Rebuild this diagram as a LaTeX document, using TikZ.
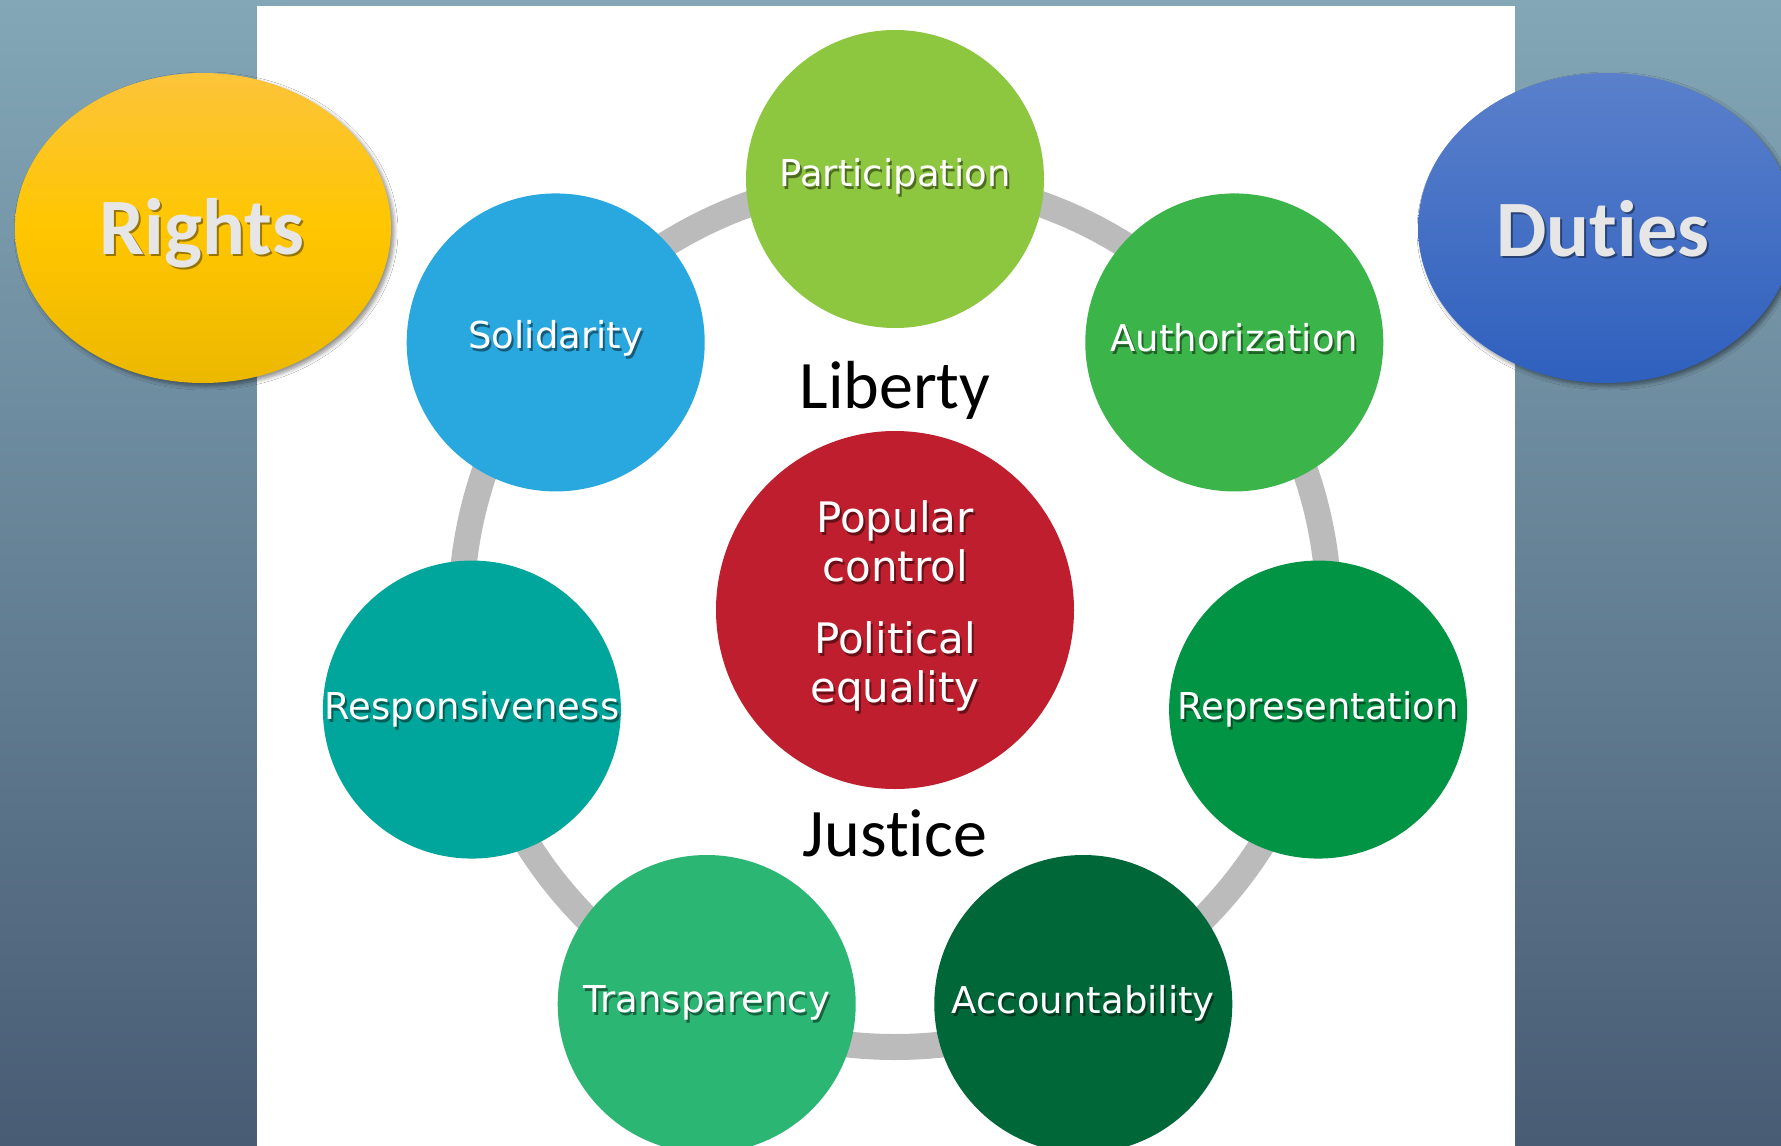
\documentclass[tikz,border=0pt]{standalone}
\usepackage{fontspec}
\usetikzlibrary{shapes.geometric,shadows,shadows.blur}
\newfontfamily\calib[Ligatures={NoCommon,NoDiscretionary,NoContextual}]{Carlito}
\newfontfamily\verd{DejaVu Sans}
\definecolor{bgtop}{RGB}{131,167,183}
\definecolor{bgbot}{RGB}{72,92,116}
\definecolor{ringgray}{RGB}{187,187,187}
\definecolor{cPart}{RGB}{141,198,63}
\definecolor{cSoli}{RGB}{41,168,224}
\definecolor{cAuth}{RGB}{59,180,74}
\definecolor{cResp}{RGB}{0,166,156}
\definecolor{cRepr}{RGB}{0,148,68}
\definecolor{cTran}{RGB}{43,182,115}
\definecolor{cAcco}{RGB}{0,104,56}
\definecolor{cCore}{RGB}{190,30,45}
\definecolor{yTop}{RGB}{252,196,58}
\definecolor{yMid}{RGB}{255,198,0}
\definecolor{yBot}{RGB}{236,184,0}
\definecolor{bTop}{RGB}{90,128,203}
\definecolor{bBot}{RGB}{47,96,190}
\definecolor{ovtext}{RGB}{230,230,230}
\begin{document}
\begin{tikzpicture}[x=1pt,y=-1pt,
  bubble/.style={circle, minimum size=298pt, inner sep=0pt, draw=none},
  lab/.style={font=\verd\fontsize{37}{42}\selectfont, text=white, inner sep=0pt},
  labsh/.style={lab, text=black, text opacity=.45},
  ctext/.style={font=\verd\fontsize{42}{49}\selectfont, text=white, inner sep=0pt, align=center},
  ctextsh/.style={ctext, text=black, text opacity=.45},
  big/.style={font=\calib\fontsize{68}{80}\selectfont, text=black, inner sep=0pt},
  ov/.style={ellipse, minimum width=376pt, minimum height=310pt, inner sep=0pt,
     blur shadow={shadow xshift=3pt, shadow yshift=-3pt, shadow blur steps=6, shadow blur radius=4pt, shadow opacity=45}},
  ovlab/.style={font=\calib\bfseries\fontsize{80}{90}\selectfont, text=ovtext, inner sep=0pt},
  ovlabsh/.style={ovlab, text=black, text opacity=.4}
]
\useasboundingbox (0,0) rectangle (1781,1146);
\clip (0,0) rectangle (1781,1146);
% background
\shade[top color=bgtop, bottom color=bgbot] (0,0) rectangle (1781,1146);
\fill[white] (257,6) rectangle (1515,1146);
% ring
\coordinate (ring) at (895,613);
\draw[line width=26pt, color=ringgray] (ring) circle[radius=434pt];
% bubbles (\dy: upward shift of the label, canvas pt)
\foreach \name/\ang/\col/\txt/\dy in {
  part/90/cPart/Participation/3,
  auth/38.571/cAuth/Authorization/5,
  repr/-12.857/cRepr/Representation/0,
  acco/-64.286/cAcco/Accountability/1,
  tran/-115.714/cTran/Transparency/1,
  resp/-167.143/cResp/Responsiveness/0,
  soli/141.429/cSoli/Solidarity/4}
{
  \node[bubble, fill=\col] (\name) at ([shift={(\ang:434pt)}]ring) {};
  \node[labsh] (\name-s) at ([shift={(2pt,\dy pt-3pt)}]\name) {\txt};
  \node[lab] (\name-t) at ([shift={(0pt,\dy pt)}]\name) {\txt};
}
% core
\node[bubble, minimum size=358pt, fill=cCore] (core) at (895,610) {};
\node[ctextsh] (pc-s) at (897,544) {Popular\\control};
\node[ctext] (pc) at (895,541) {Popular\\control};
\node[ctextsh] (pe-s) at (897,669) {Political\\equality};
\node[ctext] (pe) at (895,666) {Political\\equality};
% Liberty / Justice
\node[big] (liberty) at (895,390) {Liberty};
\node[big] (justice) at (895,833) {Just\kern0pt ice};
% Rights / Duties
\node[ov, top color=yTop, bottom color=yBot, middle color=yMid] (rights) at (203,228) {};
\node[ovlabsh] (rights-s) at (204,235) {Rights};
\node[ovlab] (rights-t) at (202,233) {Rights};
\node[ov, top color=bTop, bottom color=bBot] (duties) at (1606,228) {};
\node[ovlabsh] (duties-s) at (1605,231) {Dut\kern0pt ies};
\node[ovlab] (duties-t) at (1603,229) {Dut\kern0pt ies};
\end{tikzpicture}
\end{document}
